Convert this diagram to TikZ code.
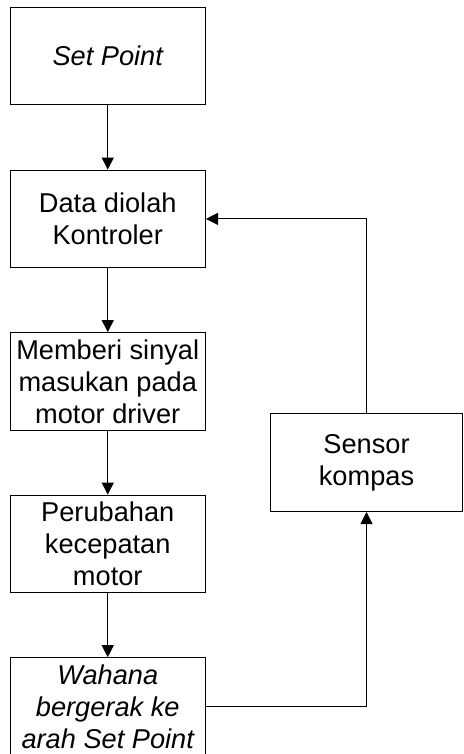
\documentclass[tikz,border=0pt]{standalone}
\usepackage{fontspec}
\setmainfont{Liberation Sans}
\usetikzlibrary{arrows.meta}
\tikzset{blk/.style={draw,line width=0.5pt,minimum width=97.75pt,minimum height=48.8pt,inner sep=1pt,align=center,font=\fontsize{13.6}{16}\selectfont},
  ar/.style={-{Triangle[length=6pt,width=6pt]},line width=0.5pt}}

\begin{document}
\begin{tikzpicture}[x=0.5pt,y=-0.5pt]
\useasboundingbox (0,0) rectangle (463,754);
\node[blk] (setpt) at (107.75,56.2) {\itshape Set Point};
\node[blk] (olah) at (107.75,218.9) {Data diolah\\Kontroler};
\node[blk] (sinyal) at (107.75,381.4) {Memberi sinyal\\masukan pada\\motor driver};
\node[blk] (ubah) at (107.75,543.9) {Perubahan\\kecepatan\\motor};
\node[blk] (wahana) at (107.75,706.5) {\itshape Wahana\\\itshape bergerak ke\\\itshape arah Set Point};
\node[blk,minimum width=96.2pt] (kompas) at (366.5,462.7) {Sensor\\kompas};
\draw[ar] (setpt) -- (olah);
\draw[ar] (olah) -- (sinyal);
\draw[ar] (sinyal) -- (ubah);
\draw[ar] (ubah) -- (wahana);
\draw[ar] (wahana.east) -| (kompas.south);
\draw[ar] (kompas.north) |- (olah.east);
\end{tikzpicture}
\end{document}
